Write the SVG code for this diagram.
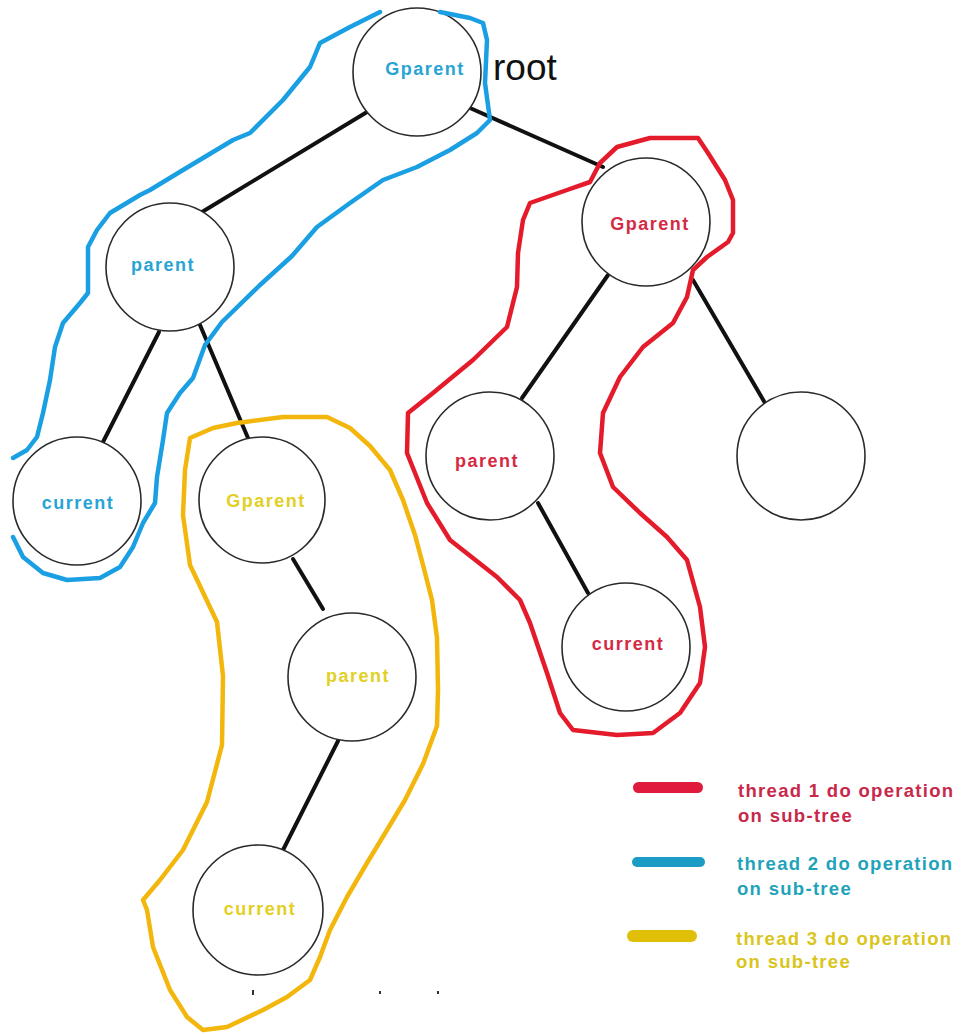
<svg xmlns="http://www.w3.org/2000/svg" width="969" height="1034" viewBox="0 0 969 1034">
  <style>
    .edge { stroke: #111; stroke-width: 4; stroke-linecap: round; fill: none; }
    .node { fill: #fff; stroke: #2a2a2a; stroke-width: 1.6; }
    .blob { fill: none; stroke-width: 4.5; stroke-linejoin: round; stroke-linecap: round; }
    .t1 { stroke: #e31b2b; }
    .t2 { stroke: #1a9fe3; }
    .t3 { stroke: #f3b60c; }
    .lbl { font-family: "Liberation Sans", Arial, sans-serif; font-weight: bold; font-size: 18px; letter-spacing: 1.5px; text-anchor: middle; }
    .c1 { fill: #d42a44; }
    .c2 { fill: #27a4d4; }
    .c3 { fill: #e2d024; }
    .leg { font-family: "Liberation Sans", Arial, sans-serif; font-weight: bold; font-size: 18.5px; letter-spacing: 1.3px; }
    .mark { fill: #333; }
  </style>
  <rect width="969" height="1034" fill="#fff"/>

  <!-- tree edges -->
  <g id="connectors">
    <line class="edge" x1="367" y1="112" x2="202" y2="212"/>
    <line class="edge" x1="470" y1="108" x2="603" y2="167"/>
    <line class="edge" x1="159" y1="332" x2="103" y2="442"/>
    <line class="edge" x1="200" y1="325" x2="248" y2="438"/>
    <line class="edge" x1="293" y1="559" x2="323" y2="609"/>
    <line class="edge" x1="338" y1="741" x2="283" y2="850"/>
    <line class="edge" x1="608" y1="275" x2="522" y2="398"/>
    <line class="edge" x1="693" y1="280" x2="765" y2="403"/>
    <line class="edge" x1="538" y1="503" x2="588" y2="593"/>
  </g>

  <!-- tree nodes -->
  <g id="node-root"><circle class="node" cx="417" cy="72" r="64"/></g>
  <g id="node-left-parent"><circle class="node" cx="170" cy="267" r="64"/></g>
  <g id="node-left-current"><circle class="node" cx="77" cy="501" r="64"/></g>
  <g id="node-mid-gparent"><circle class="node" cx="262" cy="500" r="63"/></g>
  <g id="node-mid-parent"><circle class="node" cx="352" cy="677" r="64"/></g>
  <g id="node-mid-current"><circle class="node" cx="258" cy="910" r="65"/></g>
  <g id="node-right-gparent"><circle class="node" cx="646" cy="222" r="64"/></g>
  <g id="node-right-parent"><circle class="node" cx="490" cy="456" r="64"/></g>
  <g id="node-right-leaf"><circle class="node" cx="801" cy="456" r="64"/></g>
  <g id="node-right-current"><circle class="node" cx="626" cy="647" r="64"/></g>

  <!-- hand-drawn sub-tree outlines -->
  <g id="outlines">
    <!-- thread 2 (blue) -->
    <path class="blob t2" d="M13,537 L23,557 L43,573 L67,580 L100,578 L120,567 L133,547 L143,523 L155,503 L157,477 L163,440 L167,413 L180,393 L193,378 L205,345 L222,322 L260,285 L292,256 L317,227 L350,203 L383,180 L417,167 L450,150 L477,133 L490,120 L485,83 L487,40 L483,23 L470,18 L440,12"/>
    <path class="blob t2" d="M380,12 L350,27 L320,43 L310,67 L283,100 L250,133 L233,140 L183,170 L150,190 L140,195 L110,213 L97,230 L88,247 L88,293 L80,303 L63,323 L55,347 L50,380 L43,413 L37,437 L27,450 L13,458"/>
    <!-- thread 3 (yellow) -->
    <path class="blob t3" d="M190,438 L213,428 L237,423 L283,417 L327,417 L350,428 L370,446 L390,470 L403,500 L415,535 L423,565 L432,600 L437,638 L438,690 L437,726 L423,764 L405,800 L387,830 L367,863 L347,897 L330,930 L320,957 L310,980 L287,997 L263,1010 L227,1027 L203,1030 L187,1017 L170,990 L153,947 L147,910 L143,900 L160,880 L183,850 L193,830 L207,802 L222,745 L223,676 L217,622 L190,565 L183,515 L185,470 Z"/>
    <!-- thread 1 (red) -->
    <path class="blob t1" d="M600,163 L617,147 L650,138 L698,138 L708,153 L725,180 L733,200 L733,233 L728,242 L707,257 L693,270 L687,297 L673,323 L643,347 L620,377 L603,413 L600,453 L613,487 L640,513 L667,537 L687,560 L700,607 L705,647 L700,683 L680,713 L653,733 L617,735 L573,730 L560,713 L547,673 L530,623 L520,600 L497,577 L450,540 L427,503 L407,453 L408,413 L433,393 L473,360 L507,327 L517,287 L518,253 L523,220 L530,203 L567,190 L590,182 Z"/>
  </g>

  <!-- node labels -->
  <g id="labels">
    <text class="lbl c2" x="425" y="75">Gparent</text>
    <text x="493" y="80" font-family="Liberation Sans, Arial, sans-serif" font-size="37" fill="#111">root</text>
    <text class="lbl c2" x="163" y="271">parent</text>
    <text class="lbl c2" x="78" y="509">current</text>
    <text class="lbl c3" x="266" y="507">Gparent</text>
    <text class="lbl c3" x="358" y="682">parent</text>
    <text class="lbl c3" x="260" y="915">current</text>
    <text class="lbl c1" x="650" y="230">Gparent</text>
    <text class="lbl c1" x="487" y="467">parent</text>
    <text class="lbl c1" x="628" y="650">current</text>
  </g>

  <!-- legend -->
  <g id="legend">
    <rect x="633" y="782" width="70" height="11" rx="5.5" fill="#e01a3c"/>
    <text class="leg" x="738" y="797" fill="#c8284a">thread 1 do operation</text>
    <text class="leg" x="738" y="822" fill="#c8284a">on sub-tree</text>
    <rect x="632" y="857" width="73" height="10" rx="5" fill="#1a9cc4"/>
    <text class="leg" x="737" y="870" fill="#1fa3bb">thread 2 do operation</text>
    <text class="leg" x="737" y="895" fill="#1fa3bb">on sub-tree</text>
    <rect x="627" y="930" width="70" height="12" rx="6" fill="#dfbf08"/>
    <text class="leg" x="736" y="945" fill="#d9c51c">thread 3 do operation</text>
    <text class="leg" x="736" y="968" fill="#d9c51c">on sub-tree</text>
  </g>

  <!-- stray specks -->
  <g id="specks">
    <rect class="mark" x="252" y="990" width="2" height="5"/>
    <rect class="mark" x="379" y="991" width="2" height="3"/>
    <rect class="mark" x="437" y="991" width="2" height="3"/>
  </g>
</svg>
